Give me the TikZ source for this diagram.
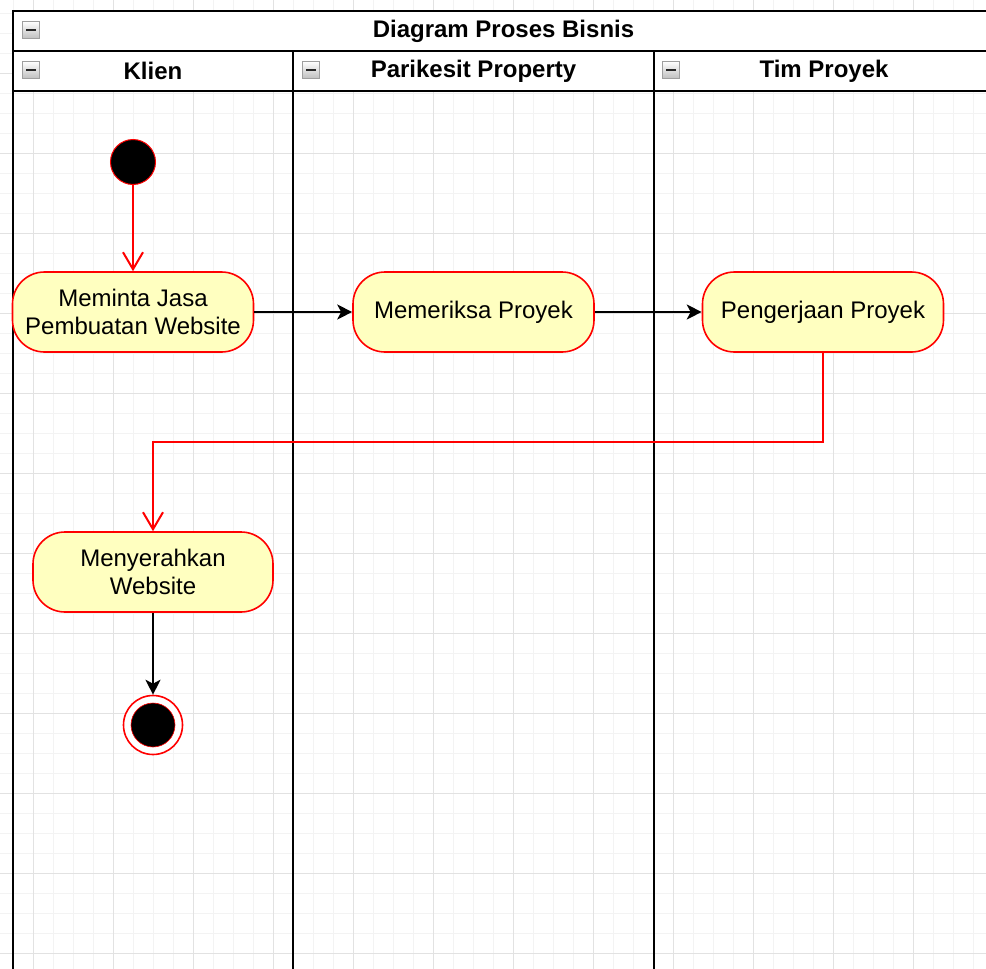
\documentclass[tikz,border=0pt]{standalone}
\usepackage{fontspec}
\setmainfont{Liberation Sans}
\usetikzlibrary{arrows.meta,positioning}

\definecolor{actred}{HTML}{FF0000}
\definecolor{actfill}{HTML}{FFFFC0}
\definecolor{gridminor}{HTML}{F3F3F3}
\definecolor{gridmajor}{HTML}{E2E2E2}

\tikzset{
  lane/.style={line width=2pt,black},
  activity/.style={draw=actred,line width=1.6pt,fill=actfill,rounded corners=32pt,
    minimum width=241pt,minimum height=80pt,align=center,inner sep=0pt,
    font=\fontsize{24}{28}\selectfont},
  lanetitle/.style={font=\fontsize{24}{28}\selectfont\bfseries,inner sep=0pt},
  minusbox/.style={rectangle,draw=gray!75,line width=0.8pt,top color=white,
    bottom color=gray!50,minimum size=17pt,inner sep=0pt,
    path picture={\draw [line width=2.6pt,black!85]
      ([xshift=-5pt]path picture bounding box.center) --
      ([xshift=5pt]path picture bounding box.center);}},
  flowblack/.style={line width=2pt,black,-{Stealth[length=15pt,width=15pt,inset=4pt]}},
  flowred/.style={line width=2pt,actred,-{Straight Barb[length=17pt,width=20pt]}}
}

\begin{document}
\begin{tikzpicture}[x=1pt,y=-1pt]
  \useasboundingbox (0,0) rectangle (986,969);
  \clip (0,0) rectangle (986,969);
  %draw background grid
  \foreach \gx in {13,33,...,993} \draw [gridminor,line width=1pt] (\gx,0) -- (\gx,969);
  \foreach \gy in {13,33,...,973} \draw [gridminor,line width=1pt] (0,\gy) -- (986,\gy);
  \foreach \gx in {33,113,...,993} \draw [gridmajor,line width=1pt] (\gx,0) -- (\gx,969);
  \foreach \gy in {73,153,...,973} \draw [gridmajor,line width=1pt] (0,\gy) -- (986,\gy);
  %draw pool and lanes
  \fill [white] (13,11) rectangle (994,91);
  \draw [lane] (13,980) -- (13,11) -- (994,11) -- (994,980);
  \draw [lane] (13,51) -- (994,51);
  \draw [lane] (13,91) -- (994,91);
  \draw [lane] (293,51) -- (293,980);
  \draw [lane] (654,51) -- (654,980);
  %headers
  \node [minusbox] (minpool) at (31,30) {};
  \node [lanetitle] (title) at (503.5,31) {Diagram Proses Bisnis};
  \node [minusbox] (minklien) at (31,70) {};
  \node [lanetitle] (klien) at (153,71) {Klien};
  \node [minusbox] (minparikesit) at (311,70) {};
  \node [lanetitle] (parikesit) at (473.5,71) {Parikesit Property};
  \node [minusbox] (mintim) at (671,70) {};
  \node [lanetitle] (timproyek) at (824,71) {Tim Proyek};
  %activities
  \node [circle,fill=black,draw=actred,line width=1pt,minimum size=45pt,inner sep=0pt]
    (start) at (133,162) {};
  \node [activity] (meminta) at (133,312) {Meminta Jasa\\Pembuatan Website};
  \node [activity] (memeriksa) at (473.5,312) {Memeriksa Proyek};
  \node [activity] (pengerjaan) at (823,312) {Pengerjaan Proyek};
  \node [activity,minimum width=240pt] (menyerahkan) at (153,572) {Menyerahkan\\Website};
  \node [circle,fill=white,draw=actred,line width=1.6pt,minimum size=59pt,inner sep=0pt]
    (finish) at (153,725) {};
  \node [circle,fill=black,draw=actred,line width=0.6pt,minimum size=44pt,inner sep=0pt]
    (finishdot) at (finish.center) {};
  %connectors
  \draw [flowred] (start) -- (meminta);
  \draw [flowblack] (meminta) -- (memeriksa);
  \draw [flowblack] (memeriksa) -- (pengerjaan);
  \coordinate (bend) at (823,442);
  \draw [flowred] (pengerjaan.south) -- (bend) -| (menyerahkan.north);
  \draw [flowblack] (menyerahkan) -- (finish);
\end{tikzpicture}
\end{document}
